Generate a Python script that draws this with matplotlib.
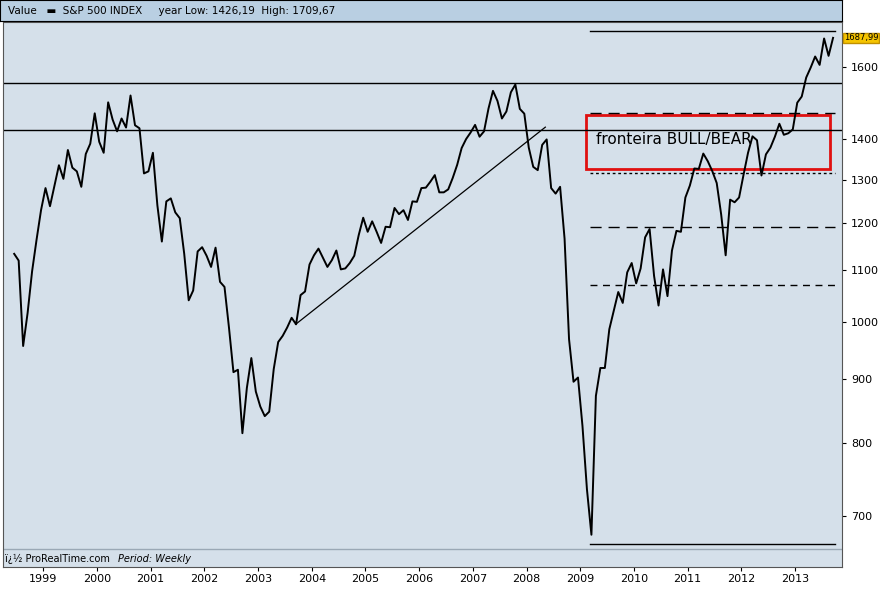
import matplotlib
matplotlib.use("Agg")
import matplotlib.pyplot as plt
import numpy as np
from matplotlib.patches import Rectangle

start_year = 1998
start_month = 6
closes = [
 1134, 1120, 957, 1017, 1098, 1164, 1229,
 1280, 1238, 1286, 1335, 1302, 1373, 1329, 1320, 1283, 1363, 1389, 1469,
 1394, 1366, 1499, 1452, 1421, 1455, 1431, 1518, 1437, 1429, 1315, 1320,
 1366, 1240, 1160, 1249, 1256, 1224, 1211, 1134, 1041, 1060, 1139, 1148,
 1130, 1107, 1147, 1077, 1067, 990, 912, 916, 815, 886, 936, 880,
 856, 841, 848, 917, 964, 975, 990, 1008, 996, 1051, 1058, 1112,
 1131, 1145, 1126, 1107, 1121, 1141, 1102, 1104, 1115, 1130, 1174, 1212,
 1181, 1204, 1181, 1157, 1192, 1191, 1234, 1220, 1229, 1207, 1249, 1248,
 1280, 1281, 1295, 1311, 1270, 1270, 1277, 1304, 1336, 1378, 1401, 1418,
 1438, 1407, 1421, 1482, 1531, 1503, 1455, 1474, 1527, 1549, 1481, 1468,
 1379, 1331, 1323, 1386, 1400, 1280, 1267, 1283, 1166, 969, 896, 903,
 826, 735, 676, 873, 919, 919, 987, 1021, 1057, 1036, 1096, 1115,
 1074, 1104, 1169, 1187, 1089, 1031, 1102, 1049, 1141, 1183, 1181, 1258,
 1286, 1327, 1326, 1364, 1345, 1321, 1292, 1219, 1131, 1253, 1247, 1258,
 1312, 1366, 1408, 1398, 1310, 1362, 1379, 1407, 1441, 1412, 1416, 1426,
 1498, 1515, 1569, 1598, 1631, 1606, 1686, 1633, 1688,
]
h_full = [1553, 1425]
h_right = [1709, 665]
dash_levels = [1469, 1191]
short_dash_levels = [1070]
dotted_levels = [1315]
diag_x = [2003.7, 2008.35]
diag_y = [996, 1432]
last_value = "1687,99"
yticks = [700, 800, 900, 1000, 1100, 1200, 1300, 1400, 1600]
years = list(range(1999, 2014))

x = np.array([start_year + (start_month - 1 + i + 0.5) / 12 for i in range(len(closes))])
y = np.array(closes, dtype=float)

fig = plt.figure(figsize=(8.8, 5.89), dpi=100)
fig.patch.set_facecolor("white")
ax = fig.add_axes([3/880, 22/589, 839/880, 545/589])
ax.set_facecolor("#d5e0ea")
ax.set_yscale("log")
ax.set_xlim(1998.25, 2013.875)
ax.set_ylim(637, 1738)

ax.plot(x, y, color="black", lw=1.4)

for v in h_full:
    ax.axhline(v, color="black", lw=1)
x0 = 2009.18
for v in h_right:
    ax.plot([x0, 2013.75], [v, v], color="black", lw=1)
for v in dash_levels:
    ax.plot([x0, 2013.75], [v, v], color="black", lw=1, linestyle=(0, (8, 5)))
for v in short_dash_levels:
    ax.plot([x0, 2013.75], [v, v], color="black", lw=1, linestyle=(0, (5, 4)))
for v in dotted_levels:
    ax.plot([x0, 2013.75], [v, v], color="black", lw=1, linestyle=(0, (2, 2)))
ax.plot(diag_x, diag_y, color="black", lw=0.9)

ax.add_patch(Rectangle((2009.1, 1325), 4.55, 1465 - 1325, fill=False, edgecolor="#e01010", lw=2))
ax.text(2009.3, 1400, "fronteira BULL/BEAR", fontsize=11, va="center")

# bottom strip
ax.axhline(658, color="#9aa8b5", lw=1)
ax.text(1998.28, 647, "ï¿½ ProRealTime.com", fontsize=7, va="center")
ax.text(2000.4, 647, "Period: Weekly", fontsize=7, va="center", style="italic")

ax.yaxis.tick_right()
ax.set_yticks(yticks)
ax.set_yticklabels([str(t) for t in yticks], fontsize=8)
ax.yaxis.set_minor_locator(matplotlib.ticker.NullLocator())
ax.set_xticks(years)
ax.set_xticklabels([str(t) for t in years], fontsize=8)
ax.tick_params(axis="x", length=3, pad=2)
ax.tick_params(axis="y", length=3)
for s in ax.spines.values():
    s.set_color("#555555")

ax.text(1.002, 1687.99, last_value, transform=ax.get_yaxis_transform(), fontsize=6,
        va="center", ha="left", bbox=dict(boxstyle="square,pad=0.1", fc="#f5c400", ec="#c09000"))

# header
hdr = fig.add_axes([0, 1 - 21/589, 842/880, 21/589])
hdr.set_facecolor("#b9cfe2")
hdr.set_xticks([]); hdr.set_yticks([])
hdr.set_xlim(0, 842); hdr.set_ylim(0, 21)
hdr.text(8, 10.5, "Value   ▬  S&P 500 INDEX     year Low: 1426,19  High: 1709,67", fontsize=7.5, va="center")

fig.savefig("out.png", dpi=100)
